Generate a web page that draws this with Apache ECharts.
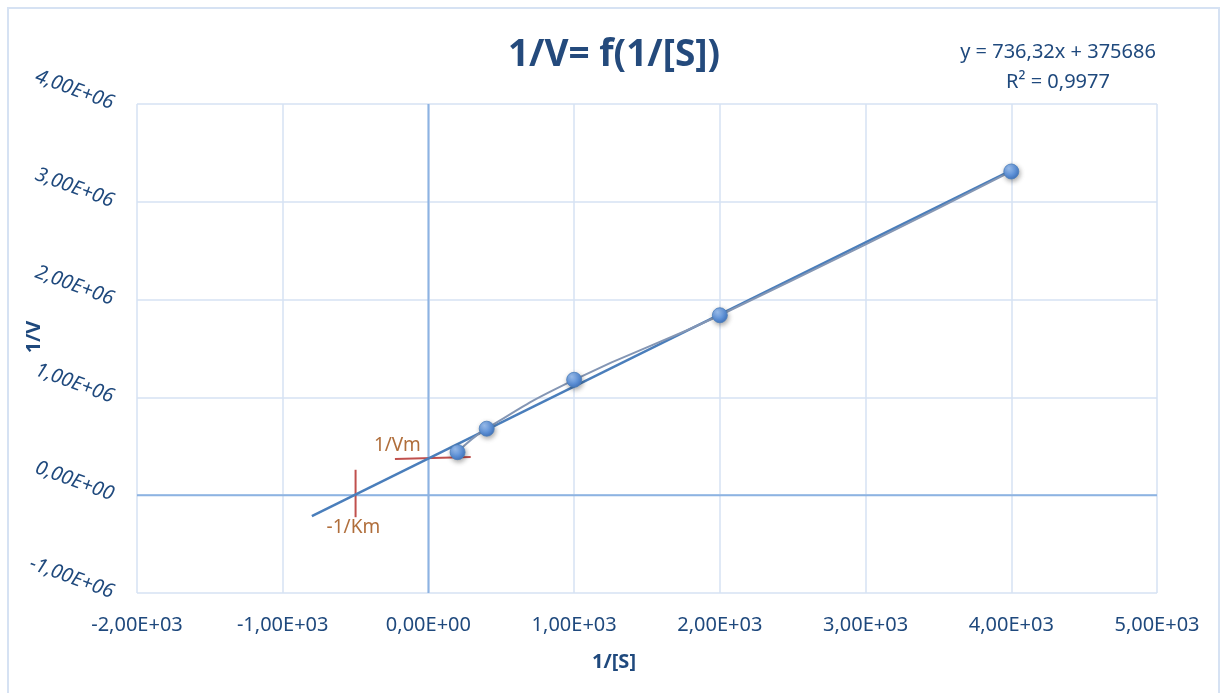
<!DOCTYPE html>
<html>
<head>
<meta charset="utf-8">
<script src="https://cdn.jsdelivr.net/npm/echarts@6/dist/echarts.min.js"></script>
<style>html,body{margin:0;padding:0;background:#fff;}#c{width:1225px;height:693px;}</style>
</head>
<body>
<div id="c"></div>
<script>
// ---- data ----
const invS = [200, 400, 1000, 2000, 4000];
const invV = [440000, 680000, 1180000, 1840000, 3310000];
const trendX = [-800, 4000];
const trendY = [-213370, 3321000];
const vmSegX = [-230, 290];
const vmSegY = [370000, 390000];
const kmSegX = [-500, -500];
const kmSegY = [260000, -225000];
const annotations = [
  {name: '1/Vm', x: -213, y: 510000},
  {name: '-1/Km', x: -515, y: -330000}
];
const titleText = '1/V= f(1/[S])';
const eqText = 'y = 736,32x + 375686';
const r2Text = 'R² = 0,9977';
const xTitle = '1/[S]';
const yTitle = '1/V';

function sci(v) {
  if (v === 0) return '0,00E+00';
  const neg = v < 0; let a = Math.abs(v);
  let e = Math.floor(Math.log10(a) + 1e-9);
  let m = a / Math.pow(10, e);
  let s = m.toFixed(2).replace('.', ',');
  return (neg ? '-' : '') + s + 'E' + (e >= 0 ? '+' : '-') + String(Math.abs(e)).padStart(2, '0');
}

const FONT = 'Noto Sans';
const TXT = '#1f497d';
const chart = echarts.init(document.getElementById('c'));
chart.setOption({
  animation: false,
  backgroundColor: '#fff',
  textStyle: {fontFamily: FONT},
  grid: {left: 137, right: 68, top: 104, bottom: 100, containLabel: false, outerBoundsMode: 'none'},
  xAxis: {
    type: 'value', min: -2000, max: 5000, interval: 1000,
    axisLine: {show: false}, axisTick: {show: false},
    splitLine: {show: true, lineStyle: {color: '#d6e2f3', width: 1.5}},
    axisLabel: {formatter: sci, color: TXT, fontSize: 20, margin: 22, fontFamily: FONT}
  },
  yAxis: {
    type: 'value', min: -1000000, max: 4000000, interval: 1000000,
    axisLine: {show: false}, axisTick: {show: false},
    splitLine: {show: true, lineStyle: {color: '#d6e2f3', width: 1.5}},
    axisLabel: {formatter: sci, color: TXT, fontSize: 20, margin: 24, rotate: -20, fontStyle: 'italic', fontFamily: FONT}
  },
  graphic: [
    {type: 'rect', shape: {x: 8, y: 8, width: 1211, height: 700}, style: {fill: 'none', stroke: '#d6e2f3', lineWidth: 2}, silent: true},
    {type: 'text', x: 614, y: 55, style: {text: titleText, font: 'bold 37px "Noto Sans"', fill: '#244a7c', textAlign: 'center', textVerticalAlign: 'middle'}},
    {type: 'text', x: 1058, y: 52, style: {text: eqText, font: '20px "Noto Sans"', fill: TXT, textAlign: 'center', textVerticalAlign: 'middle'}},
    {type: 'text', x: 1058, y: 82, style: {text: r2Text, font: '20px "Noto Sans"', fill: TXT, textAlign: 'center', textVerticalAlign: 'middle'}},
    {type: 'text', x: 614, y: 662, style: {text: xTitle, font: 'bold 20px "Noto Sans"', fill: TXT, textAlign: 'center', textVerticalAlign: 'middle'}},
    {type: 'text', x: 34, y: 337, rotation: Math.PI / 2, style: {text: yTitle, font: 'bold 20px "Noto Sans"', fill: TXT, textAlign: 'center', textVerticalAlign: 'middle'}}
  ],
  series: [
    {
      type: 'line', data: [[-2000, 0], [5000, 0]], symbol: 'none', silent: true,
      lineStyle: {color: '#8db3e2', width: 2}, z: 1
    },
    {
      type: 'line', data: [[0, -1000000], [0, 4000000]], symbol: 'none', silent: true,
      lineStyle: {color: '#8db3e2', width: 2}, z: 1
    },
    {
      type: 'line', data: vmSegX.map((x, i) => [x, vmSegY[i]]), symbol: 'none',
      lineStyle: {color: '#c0504d', width: 2}, z: 3
    },
    {
      type: 'line', data: kmSegX.map((x, i) => [x, kmSegY[i]]), symbol: 'none',
      lineStyle: {color: '#c0504d', width: 2}, z: 3
    },
    {
      type: 'line', data: trendX.map((x, i) => [x, trendY[i]]), symbol: 'none',
      lineStyle: {color: '#4a7ebb', width: 2.5}, z: 4
    },
    {
      type: 'line', data: invS.map((x, i) => [x, invV[i]]), smooth: true,
      symbol: 'circle', symbolSize: 15,
      lineStyle: {color: '#8496b4', width: 2},
      itemStyle: {
        color: new echarts.graphic.RadialGradient(0.35, 0.3, 0.8, [
          {offset: 0, color: '#9cc0f0'}, {offset: 0.6, color: '#5b8fd6'}, {offset: 1, color: '#3d6fb8'}
        ]),
        borderColor: '#4a7ebb', borderWidth: 0.8,
        shadowColor: 'rgba(0,0,0,0.35)', shadowBlur: 5, shadowOffsetX: 1, shadowOffsetY: 2
      },
      z: 5
    },
    {
      type: 'scatter', data: annotations.map(a => ({name: a.name, value: [a.x, a.y]})),
      symbolSize: 0, silent: true,
      label: {show: true, position: 'inside', formatter: '{b}', color: '#9c4a0a', fontSize: 19, fontFamily: FONT},
      z: 6
    }
  ]
});
</script>
</body>
</html>
